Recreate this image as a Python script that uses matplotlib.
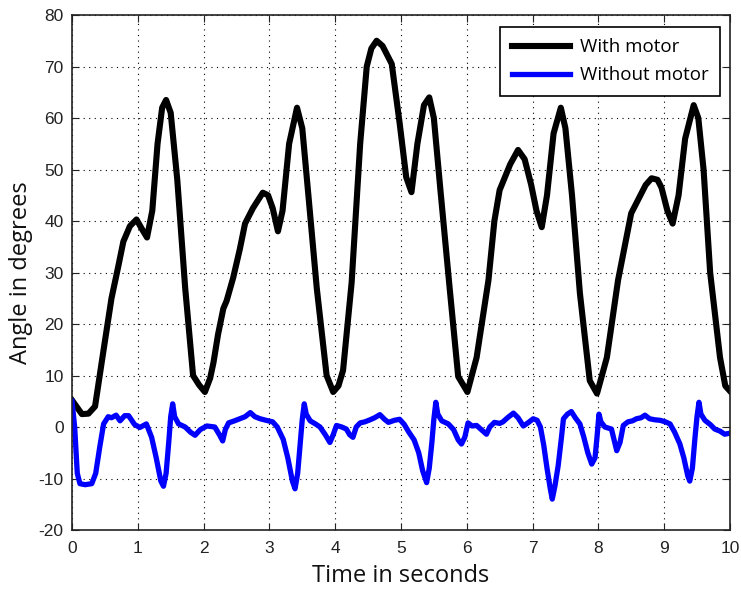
import matplotlib.pyplot as plt

plt.rcParams['axes.unicode_minus'] = False

# time stamps (s) and angles (deg)
t_motor = [0, 0.15, 0.25, 0.35, 0.48, 0.6, 0.7, 0.78, 0.88, 0.98, 1.06, 1.14,
           1.22, 1.3, 1.37, 1.43, 1.5, 1.6, 1.72, 1.84, 1.93, 2.02, 2.1, 2.15,
           2.22, 2.3, 2.35, 2.45, 2.55, 2.63, 2.75, 2.9, 2.98, 3.05, 3.13, 3.2,
           3.3, 3.42, 3.5, 3.6, 3.72, 3.87, 3.97, 4.05, 4.12, 4.25, 4.38, 4.48,
           4.55, 4.63, 4.72, 4.86, 4.98, 5.08, 5.16, 5.25, 5.35, 5.43, 5.5, 5.6,
           5.74, 5.87, 6.01, 6.15, 6.33, 6.42, 6.5, 6.66, 6.78, 6.88, 6.98, 7.06,
           7.14, 7.22, 7.32, 7.43, 7.5, 7.6, 7.72, 7.87, 7.98, 8.13, 8.3, 8.4,
           8.5, 8.6, 8.72, 8.81, 8.9, 8.96, 9.05, 9.13, 9.22, 9.32, 9.45, 9.52,
           9.6, 9.7, 9.85, 9.93, 10.0]
angle_motor = [5.2, 2.5, 2.6, 4, 15, 25, 31, 36, 39, 40.3, 38.5, 36.8,
               42, 55, 62, 63.5, 61, 48, 27, 10, 8.2, 6.8, 9.5, 12.5,
               18, 23, 24.5, 29, 34.5, 39.5, 42.5, 45.5, 45, 42.5, 38, 42,
               55, 62, 58, 44, 27, 10, 6.8, 8, 11, 28, 55, 70,
               73.5, 75, 74, 70.5, 59, 48.5, 45.6, 55, 62.5, 64, 60, 46,
               27, 9.8, 6.8, 13.5, 28.5, 40, 46, 51, 53.8, 52, 47, 42,
               38.8, 45, 57, 62, 58, 45, 26, 9, 6.5, 13.5, 28.5, 35,
               41.5, 44, 47, 48.3, 48, 46.5, 42, 39.5, 45, 56, 62.5, 60,
               50, 30, 13.5, 8, 7]

t_free = [0, 0.04, 0.08, 0.12, 0.2, 0.3, 0.36, 0.42, 0.48, 0.55, 0.6, 0.67,
          0.73, 0.8, 0.86, 0.95, 1.03, 1.13, 1.21, 1.28, 1.35, 1.39, 1.43, 1.47,
          1.5, 1.53, 1.56, 1.62, 1.72, 1.8, 1.87, 1.95, 2.05, 2.17, 2.24, 2.29,
          2.33, 2.38, 2.47, 2.55, 2.63, 2.71, 2.78, 2.86, 2.95, 3.05, 3.12, 3.21,
          3.28, 3.35, 3.39, 3.43, 3.47, 3.5, 3.53, 3.56, 3.62, 3.7, 3.77, 3.85,
          3.92, 3.97, 4.02, 4.1, 4.17, 4.22, 4.27, 4.32, 4.38, 4.45, 4.53, 4.6,
          4.68, 4.75, 4.81, 4.9, 4.98, 5.05, 5.12, 5.2, 5.27, 5.33, 5.39, 5.43,
          5.47, 5.5, 5.53, 5.56, 5.62, 5.72, 5.8, 5.87, 5.92, 5.97, 6.02, 6.08,
          6.15, 6.22, 6.3, 6.35, 6.42, 6.5, 6.55, 6.62, 6.71, 6.78, 6.86, 6.93,
          7.01, 7.07, 7.12, 7.17, 7.22, 7.27, 7.3, 7.34, 7.39, 7.44, 7.47, 7.53,
          7.59, 7.65, 7.72, 7.78, 7.84, 7.9, 7.95, 7.98, 8.01, 8.04, 8.1, 8.2,
          8.24, 8.28, 8.33, 8.38, 8.45, 8.52, 8.58, 8.65, 8.71, 8.78, 8.86, 8.94,
          9.02, 9.09, 9.16, 9.24, 9.3, 9.36, 9.39, 9.43, 9.47, 9.5, 9.53, 9.56,
          9.62, 9.7, 9.77, 9.85, 9.92, 10.0]
angle_free = [5, 0, -9, -11, -11.2, -11, -9, -4, 0.6, 2, 1.8, 2.3,
              1.2, 2.2, 2.2, 0.5, -0.1, 0.6, -2, -6, -10.5, -11.5, -9, -3,
              2, 4.5, 2, 0.6, 0, -1, -1.6, -0.5, 0.2, 0, -1.5, -2.7,
              -0.5, 0.8, 1.2, 1.6, 2, 2.8, 2, 1.6, 1.3, 1, 0, -2.4,
              -6, -10.5, -12, -9, -3, 1.5, 4.5, 2.5, 1.2, 0.6, 0, -1.5,
              -3, -1.5, 0.3, 0, -0.4, -1.5, -2, 0, 0.8, 1, 1.4, 1.8,
              2.4, 1.5, 0.9, 1.3, 1.5, 0.5, -1, -2.5, -5, -8.5, -10.8, -8,
              -3, 1.5, 4.8, 2.5, 1.2, 0.6, -0.5, -2.5, -3.3, -2, 0.8, 0.2,
              0.3, -0.5, -1.4, 0, 0.9, 0.7, 1, 1.8, 2.7, 1.8, 0.2, 0.8,
              1.6, 1.3, 0, -3.5, -8, -12, -14, -11.5, -7.5, -2, 1.6, 2.5,
              3, 1.8, 0.6, -2, -5, -7.2, -6, -2, 2.5, 1, 0, -0.4,
              -2.5, -4.6, -3, 0.3, 1, 1.2, 1.6, 1.8, 2.3, 1.6, 1.4, 1.3,
              1, 0.6, -1, -3.3, -6, -9.5, -10.5, -8, -2, 2, 4.8, 2.5,
              1.3, 0.5, -0.4, -0.8, -1.4, -1.2]

x_ticks = list(range(0, 11))
y_ticks = list(range(-20, 81, 10))

fig = plt.figure(figsize=(7.41, 5.91), dpi=100)
ax = fig.add_axes([0.0972, 0.1032, 0.8878, 0.8714])

ax.plot(t_motor, angle_motor, color='black', lw=4.4, label='With motor',
        solid_joinstyle='round')
ax.plot(t_free, angle_free, color='#0000ff', lw=3.8, label='Without motor',
        solid_joinstyle='round')

ax.set_xlim(0, 10)
ax.set_ylim(-20, 80)
ax.set_xticks(x_ticks)
ax.set_yticks(y_ticks)
ax.tick_params(direction='in', length=5, top=True, right=True,
               labelsize=12.5, colors='#222222')
ax.tick_params(axis='x', pad=8)
ax.tick_params(axis='y', pad=6)
for lab in ax.get_xticklabels() + ax.get_yticklabels():
    lab.set_family('Liberation Sans')
ax.grid(True, color='black', linestyle=(0, (1, 4)), linewidth=0.8)
for sp in ax.spines.values():
    sp.set_linewidth(1.2)
    sp.set_color('#222222')

ax.set_xlabel('Time in seconds', fontsize=17, family='Open Sans',
              color='#111111', labelpad=6)
ax.set_ylabel('Angle in degrees', fontsize=17, family='Open Sans',
              color='#111111', labelpad=4)

leg = ax.legend(loc='upper right', bbox_to_anchor=(0.985, 0.977),
                prop={'family': 'Open Sans', 'size': 13.5},
                fancybox=False, framealpha=1, edgecolor='black',
                handlelength=3.1, borderaxespad=0.0, labelspacing=0.55,
                handletextpad=0.55, borderpad=0.6)
leg.get_frame().set_linewidth(1.2)

fig.savefig('out.png', dpi=100)
